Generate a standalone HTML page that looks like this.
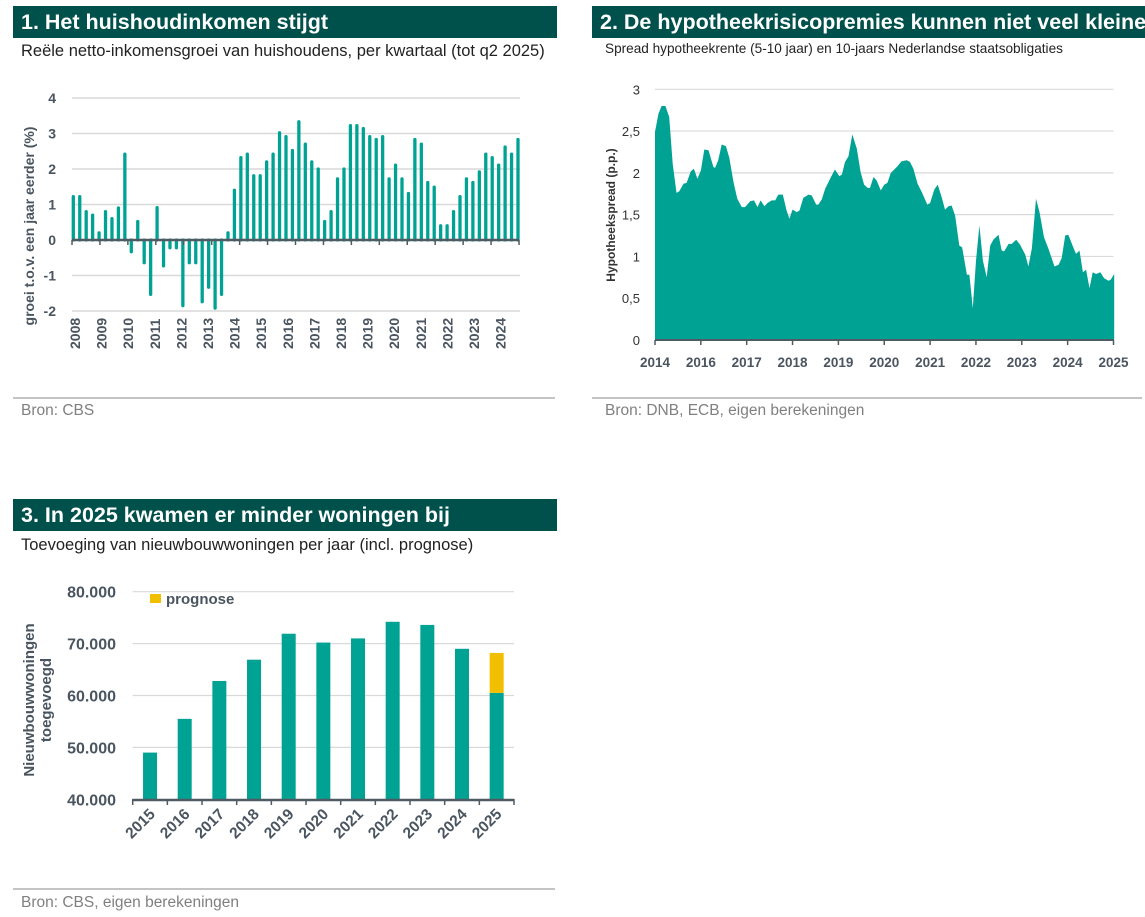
<!DOCTYPE html>
<html><head><meta charset="utf-8">
<style>
body{margin:0;width:1145px;height:917px;background:#fff;font-family:"Liberation Sans",sans-serif;position:relative;overflow:hidden}
.hdr{position:absolute;background:#00504c;color:#fff;font-weight:bold;font-size:21.5px;line-height:32px;padding-left:8px;white-space:nowrap;overflow:hidden;box-sizing:border-box}
.sub{position:absolute;color:#222;font-size:16.5px;white-space:nowrap}
.sep{position:absolute;height:2px;background:#c4c4c4}
.src{position:absolute;color:#808080;font-size:15.5px}
svg{position:absolute;left:0;top:0}
svg text{font-family:"Liberation Sans",sans-serif;fill:#4a5560;font-weight:bold}
</style></head><body>
<div class="hdr" style="left:13px;top:6px;width:544px;height:32px">1. Het huishoudinkomen stijgt</div>
<div class="sub" style="left:21px;top:42px">Reële netto-inkomensgroei van huishoudens, per kwartaal (tot q2 2025)</div>
<div class="sep" style="left:13px;top:397px;width:542px"></div>
<div class="src" style="left:21px;top:402px">Bron: CBS</div>

<div class="hdr" style="left:592px;top:6px;width:553px;height:32px">2. De hypotheekrisicopremies kunnen niet veel kleiner</div>
<div class="sub" style="left:605px;top:41px;font-size:13.6px">Spread hypotheekrente (5-10 jaar) en 10-jaars Nederlandse staatsobligaties</div>
<div class="sep" style="left:592px;top:397px;width:550px"></div>
<div class="src" style="left:605px;top:402px">Bron: DNB, ECB, eigen berekeningen</div>

<div class="hdr" style="left:13px;top:499px;width:544px;height:32px">3. In 2025 kwamen er minder woningen bij</div>
<div class="sub" style="left:21px;top:536px">Toevoeging van nieuwbouwwoningen per jaar (incl. prognose)</div>
<div class="sep" style="left:13px;top:888px;width:542px"></div>
<div class="src" style="left:21px;top:894px">Bron: CBS, eigen berekeningen</div>

<svg id="svg" width="1145" height="917" xmlns="http://www.w3.org/2000/svg"></svg>

<script>
// Chart 1 data
const c1Values=[1.22,1.22,0.8,0.7,0.2,0.8,0.6,0.9,2.42,-0.33,0.52,-0.64,-1.53,0.91,-0.73,-0.22,-0.22,-1.85,-0.64,-0.64,-1.74,-1.33,-1.92,-1.53,0.2,1.4,2.32,2.42,1.81,1.81,2.2,2.42,3.02,2.91,2.52,3.33,2.7,2.2,2.0,0.52,0.8,1.72,2.0,3.22,3.22,3.14,2.91,2.83,2.91,1.72,2.11,1.72,1.31,2.83,2.7,1.62,1.49,0.4,0.4,0.8,1.22,1.72,1.62,1.92,2.42,2.32,2.11,2.62,2.42,2.83];
const c1YTicks=[4,3,2,1,0,-1,-2];
const c1XLabels=["2008","2009","2010","2011","2012","2013","2014","2015","2016","2017","2018","2019","2020","2021","2022","2023","2024"];
// Chart 2 data (months since Jan 2014, spread in p.p.)
const c2Months=[0,1.0,1.9,3.0,4.1,5.1,6.2,7.0,8.2,9.1,10.3,11.2,12.2,13.2,14.2,15.4,16.8,17.3,18.2,19.2,20.4,21.4,22.6,23.7,25.0,25.9,27.4,28.5,29.5,30.4,31.5,32.4,33.6,34.6,35.5,36.8,37.9,38.7,39.6,40.8,41.6,42.7,44.2,45.1,46.4,47.0,48.0,49.0,50.4,51.8,53.1,53.8,54.7,55.7,56.8,58.1,59.2,60.2,61.2,61.9,62.9,63.8,65.0,66.0,66.9,67.9,69.6,71.0,72.5,73.4,74.4,75.6,76.8,78.4,79.2,80.4,81.4,82.6,83.5,84.5,85.4,86.4,87.6,88.4,89.8,90.5,91.5,92.4,93.4,94.4,95.5,96.5,97.4,98.9,99.8,100.5,101.8,102.7,104.0,105.1,106.6,107.5,108.5,109.7,110.7,112.0,113.3,115.0,116.2,117.1,118.1,119.0,120.3,121.2,122.2,123.2,124.1,125.1,126.0,127.0,128.2,129.3,130.6,131.2,132.2];
const c2Values=[2.49,2.71,2.8,2.8,2.67,2.11,1.76,1.78,1.87,1.88,2.02,2.05,1.93,2.03,2.28,2.27,2.07,2.06,2.15,2.34,2.32,2.18,1.89,1.69,1.59,1.59,1.66,1.67,1.59,1.67,1.6,1.64,1.67,1.67,1.74,1.74,1.55,1.45,1.56,1.53,1.55,1.7,1.74,1.73,1.62,1.62,1.68,1.81,1.93,2.04,1.96,1.98,2.13,2.2,2.46,2.29,2.01,1.86,1.82,1.82,1.95,1.91,1.79,1.86,1.88,2.0,2.07,2.14,2.15,2.13,2.05,1.87,1.77,1.62,1.64,1.8,1.86,1.7,1.56,1.6,1.61,1.49,1.13,1.11,0.78,0.78,0.38,0.95,1.37,0.95,0.75,1.13,1.2,1.26,1.07,1.06,1.15,1.15,1.2,1.14,1.02,0.88,1.1,1.69,1.53,1.23,1.09,0.88,0.9,0.98,1.25,1.26,1.12,1.03,1.07,0.81,0.84,0.62,0.81,0.79,0.81,0.74,0.71,0.72,0.79];
const c2YTicks=[0,0.5,1,1.5,2,2.5,3];
const c2YLabels=["0","0,5","1","1,5","2","2,5","3"];
const c2XLabels=["2014","2016","2017","2018","2019","2020","2021","2022","2023","2024","2025"];
// Chart 3 data
const c3Years=["2015","2016","2017","2018","2019","2020","2021","2022","2023","2024","2025"];
const c3Realised=[49000,55500,62800,66900,71900,70200,71000,74200,73600,69000,60500];
const c3Prognose=[0,0,0,0,0,0,0,0,0,0,7700];
const c3YTicks=[40000,50000,60000,70000,80000];
const c3YLabels=["40.000","50.000","60.000","70.000","80.000"];

const svg=document.getElementById('svg');
const NS='http://www.w3.org/2000/svg';
function mk(tag,attrs,parent){const e=document.createElementNS(NS,tag);for(const k in attrs)e.setAttribute(k,attrs[k]);(parent||svg).appendChild(e);return e;}
const TEAL='#00a393',AX='#4f5a63',GRID='#d9d9d9';

// ---- Chart 1
const g1=mk('g',{});


const x1L=72,x1R=519;
const y1=v=>240-(v*35.5);
const bx1=i=>73.3+i*(518-73.3)/(c1Values.length-1);
c1YTicks.forEach((t,i)=>{
  if(t!==0){const l=mk('line',{x1:x1L,x2:520,y1:y1(t),y2:y1(t),stroke:GRID,'stroke-width':1.5},g1);
  
  }
  const tx=mk('text',{x:56,y:y1(t)+5,'text-anchor':'end','font-size':14},g1);tx.textContent=t;
  
  
});
c1Values.forEach((v,i)=>{
  const b=mk('line',{x1:bx1(i),x2:bx1(i),y1:y1(0),y2:y1(v),stroke:TEAL,'stroke-width':3.3,'stroke-linecap':'round'},g1);
  
  
});
const ax1=mk('line',{x1:x1L,x2:x1R,y1:240,y2:240,stroke:AX,'stroke-width':2.5},g1);


for(let i=0;i<=16;i++){const tk=mk('line',{x1:x1L+i*(x1R-x1L)/16,x2:x1L+i*(x1R-x1L)/16,y1:240,y2:245,stroke:AX,'stroke-width':1.5},g1);
  
  }
c1XLabels.forEach((s,i)=>{const x=80+i*26.6;
  const t=mk('text',{x:x,y:349,'font-size':14,transform:`rotate(-90 ${x} 349)`},g1);t.textContent=s;
  
  });
const yt1=mk('text',{x:34,y:226,'font-size':14,'text-anchor':'middle',transform:'rotate(-90 34 226)'},g1);yt1.textContent='groei t.o.v. een jaar eerder (%)';



// ---- Chart 2
const g2=mk('g',{});


const x2L=655,x2R=1113.5;
const x2=m=>x2L+m/132*(x2R-x2L);
const y2=v=>340-v*(250.7/3);
c2YTicks.forEach((t,i)=>{
  if(t!==0){const l=mk('line',{x1:x2L,x2:x2R,y1:y2(t),y2:y2(t),stroke:GRID,'stroke-width':1.2},g2);
  
  }
  const tx=mk('text',{x:640,y:y2(t)+5,'text-anchor':'end','font-size':13},g2);tx.textContent=c2YLabels[i];
  tx.style.fontWeight='normal';tx.style.fill='#333';
  
  
});
let d=`M${x2(c2Months[0])},${y2(0)}`;
c2Months.forEach((m,i)=>{d+=` L${x2(m).toFixed(1)},${y2(c2Values[i]).toFixed(1)}`;});
d+=` L${x2(c2Months[c2Months.length-1])},${y2(0)} Z`;
const area=mk('path',{d:d,fill:TEAL},g2);


const ax2=mk('line',{x1:x2L,x2:x2R,y1:340,y2:340,stroke:AX,'stroke-width':2},g2);


c2XLabels.forEach((s,i)=>{const x=x2L+i*(x2R-x2L)/10;
  const tk=mk('line',{x1:x,x2:x,y1:340,y2:345,stroke:AX,'stroke-width':1.5},g2);
  
  
  const t=mk('text',{x:x,y:367,'text-anchor':'middle','font-size':13.5},g2);t.textContent=s;
  
  });
const yt2=mk('text',{x:615,y:215,'font-size':12,'text-anchor':'middle',transform:'rotate(-90 615 215)'},g2);yt2.textContent='Hypotheekspread (p.p.)';
yt2.style.fill='#333';



// ---- Chart 3
const g3=mk('g',{});


const x3L=132.7,x3R=514;
const band=(x3R-x3L)/c3Years.length;
const y3=v=>799.3-(v-40000)/40000*(799.3-591.7);
c3YTicks.forEach((t,i)=>{
  if(t!==40000){const l=mk('line',{x1:x3L,x2:x3R,y1:y3(t),y2:y3(t),stroke:GRID,'stroke-width':1.2},g3);
  
  }
  const tx=mk('text',{x:116,y:y3(t)+6,'text-anchor':'end','font-size':16},g3);tx.textContent=c3YLabels[i];
  
  
});
c3Years.forEach((yr,i)=>{
  const cx=x3L+band*(i+0.5);
  const b=mk('rect',{x:cx-7,y:y3(c3Realised[i]),width:14,height:y3(40000)-y3(c3Realised[i]),fill:TEAL},g3);
  
  
  if(c3Prognose[i]>0){const top=c3Realised[i]+c3Prognose[i];
    const p=mk('rect',{x:cx-7,y:y3(top),width:14,height:y3(c3Realised[i])-y3(top),fill:'#f2be00'},g3);
    
    }
  const tk=mk('line',{x1:x3L+band*i,x2:x3L+band*i,y1:799,y2:805,stroke:AX,'stroke-width':1.5},g3);
  
  
  const t=mk('text',{x:cx+6,y:815,'text-anchor':'end','font-size':15.5},g3);t.textContent=yr;
  t.setAttribute('transform',`rotate(-45 ${cx+6} 815)`);
  
  
});
const tkEnd=mk('line',{x1:x3R,x2:x3R,y1:799,y2:805,stroke:AX,'stroke-width':1.5},g3);


const ax3=mk('line',{x1:x3L,x2:x3R,y1:800,y2:800,stroke:AX,'stroke-width':2.5},g3);


const lg=mk('rect',{x:150,y:594,width:11,height:9,fill:'#f2be00'},g3);


const lt=mk('text',{x:166,y:604,'font-size':15},g3);lt.textContent='prognose';


const yt3a=mk('text',{x:34,y:700,'font-size':15,'text-anchor':'middle',transform:'rotate(-90 34 700)'},g3);yt3a.textContent='Nieuwbouwwoningen';


const yt3b=mk('text',{x:51,y:700,'font-size':15,'text-anchor':'middle',transform:'rotate(-90 51 700)'},g3);yt3b.textContent='toegevoegd';


</script>
</body></html>
